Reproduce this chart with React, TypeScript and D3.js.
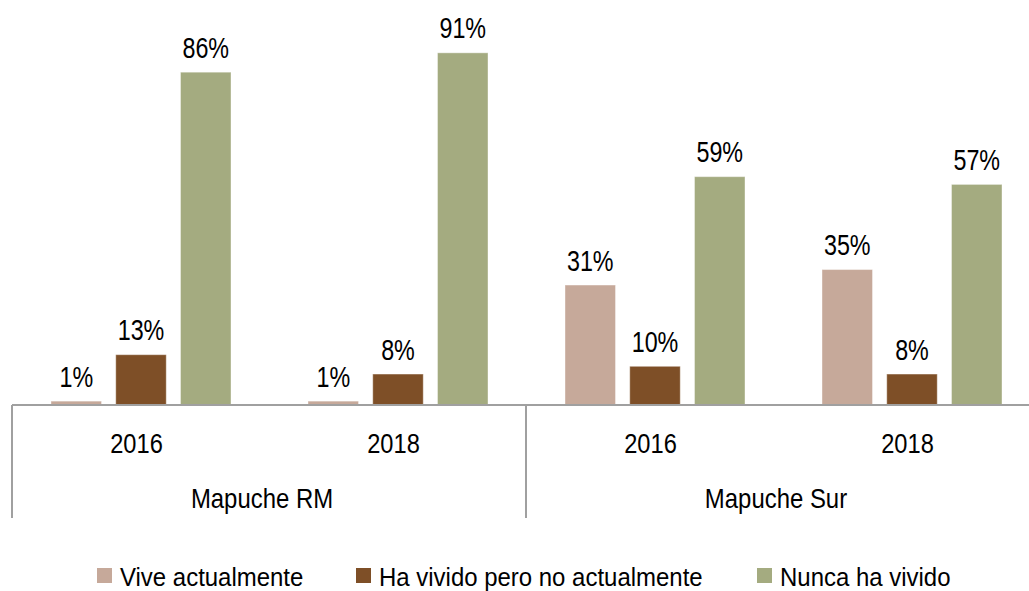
import React from "react";
import * as d3 from "d3";

const groups = ["Mapuche RM", "Mapuche Sur"];
const categories = ["Mapuche RM|2016", "Mapuche RM|2018", "Mapuche Sur|2016", "Mapuche Sur|2018"];
const seriesNames = ["Vive actualmente", "Ha vivido pero no actualmente", "Nunca ha vivido"];
const seriesColors = ["#C6A99A", "#7E4F27", "#A4AB80"];
const viveValues = [1, 1, 31, 35];
const haVividoValues = [13, 8, 10, 8];
const nuncaValues = [86, 91, 59, 57];
const seriesValues = [viveValues, haVividoValues, nuncaValues];

const W = 1029;
const H = 591;
const FONT = "'Liberation Sans', Arial, sans-serif";

function NText(props: { x: number; y: number; size: number; anchor?: string; sx?: number; children: React.ReactNode }) {
  const { x, y, size, anchor = "middle", sx = 0.83, children } = props;
  return (
    <text
      transform={`translate(${x},${y}) scale(${sx},1)`}
      textAnchor={anchor as any}
      fontFamily={FONT}
      fontSize={size}
      fill="#000"
    >
      {children}
    </text>
  );
}

export default function App() {
  const x0 = d3.scaleBand<string>().domain(categories).range([12, 1040]);
  const step = x0.bandwidth();
  const x1 = d3.scaleBand<string>().domain(seriesNames).range([39, 219]).paddingInner(0.22);
  const y = d3.scaleLinear().domain([0, 100]).range([405, 18]);
  const axisY = y(0);
  const groupScale = d3.scaleBand<string>().domain(groups).range([12, 1040]);

  const legendX = [97, 356, 757];

  return (
    <svg width={W} height={H} style={{ position: "absolute", left: 0, top: 0, background: "#fff" }}>
      {categories.map((c, ci) => (
        <g key={c} transform={`translate(${x0(c)},0)`}>
          {seriesNames.map((s, si) => {
            const v = seriesValues[si][ci];
            const bx = x1(s) as number;
            const bw = x1.bandwidth();
            return (
              <g key={s}>
                <rect
                  x={bx}
                  y={y(v)}
                  width={bw}
                  height={axisY - y(v)}
                  fill={seriesColors[si]}
                  stroke="#ffffff"
                  strokeOpacity={0.4}
                  strokeWidth={1}
                />
                <NText x={bx + bw / 2} y={y(v) - 14.5} size={29.5} sx={0.79}>
                  {v}%
                </NText>
              </g>
            );
          })}
          <NText x={step / 2 - 4} y={453} size={28.5} sx={0.83}>
            {c.split("|")[1]}
          </NText>
        </g>
      ))}
      <line x1={12} x2={W} y1={axisY} y2={axisY} stroke="#A0A0A0" strokeWidth={2} />
      {groups.map((g) => {
        const gx = groupScale(g) as number;
        return (
          <g key={g}>
            <line x1={gx} x2={gx} y1={axisY} y2={518} stroke="#A0A0A0" strokeWidth={2} />
            <NText x={gx + groupScale.bandwidth() / 2 - 7} y={508} size={28.5} sx={0.84}>
              {g}
            </NText>
          </g>
        );
      })}
      {seriesNames.map((s, si) => (
        <g key={s} transform={`translate(${legendX[si]},0)`}>
          <rect x={0} y={568} width={15} height={15} fill={seriesColors[si]} />
          <NText x={23} y={586} size={25.5} anchor="start" sx={0.94}>
            {s}
          </NText>
        </g>
      ))}
    </svg>
  );
}
